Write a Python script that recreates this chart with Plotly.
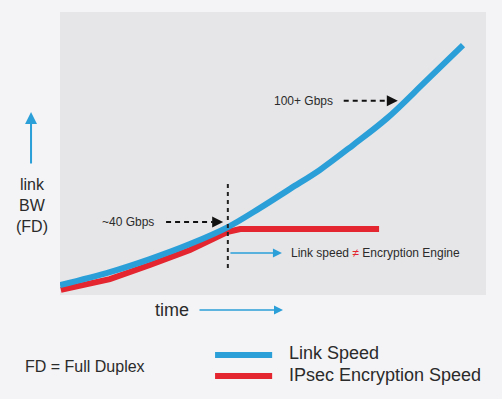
import plotly.graph_objects as go

# ---- data (abstract units: time 0-100, bandwidth 0-100) ----
link_time = [0, 11.7, 21.1, 30.5, 39.4, 46.9, 54.0, 61.0, 68.8, 76.8, 85.7, 94.6]
link_bw = [3.5, 8.1, 12.7, 18.0, 24.0, 30.7, 37.5, 44.2, 53.0, 62.5, 75.3, 88.3]
ipsec_time = [0.2, 11.7, 21.1, 30.5, 39.4, 42.3, 74.9]
ipsec_bw = [1.8, 5.6, 10.6, 15.9, 22.3, 23.3, 23.3]
series_names = ["Link Speed", "IPsec Encryption Speed"]

BLUE = "#2a9fd8"
RED = "#e3262f"
TXT = "#2b2b2b"
FONT = "Liberation Sans, Arial, sans-serif"

fig = go.Figure()
fig.add_trace(go.Scatter(x=ipsec_time, y=ipsec_bw, mode="lines", name=series_names[1],
                         line=dict(color=RED, width=6), hoverinfo="skip"))
fig.add_trace(go.Scatter(x=link_time, y=link_bw, mode="lines", name=series_names[0],
                         line=dict(color=BLUE, width=6, shape="spline", smoothing=1.0),
                         hoverinfo="skip"))

shapes = []
annotations = []

# vertical dashed marker
shapes.append(dict(type="line", xref="x", yref="y", x0=39.4, x1=39.4, y0=9.5, y1=39.9,
                   line=dict(color="#222", width=2, dash="4px,4px")))

# "100+ Gbps" dashed pointer
annotations.append(dict(x=64.6, y=68.6, xref="x", yref="y", text="100+ Gbps", showarrow=False,
                        xanchor="right", yanchor="middle", font=dict(size=12, color=TXT, family=FONT)))
shapes.append(dict(type="line", xref="x", yref="y", x0=66.6, x1=77.0, y0=68.6, y1=68.6,
                   line=dict(color="#111", width=2, dash="5px,4px")))
annotations.append(dict(x=79.3, y=68.6, xref="x", yref="y", ax=-12, ay=0, text="", showarrow=True,
                        arrowhead=2, arrowsize=1.1, arrowwidth=2, arrowcolor="#111"))

# "~40 Gbps" dashed pointer
annotations.append(dict(x=22.5, y=25.8, xref="x", yref="y", text="~40 Gbps", showarrow=False,
                        xanchor="right", yanchor="middle", font=dict(size=12, color=TXT, family=FONT)))
shapes.append(dict(type="line", xref="x", yref="y", x0=24.9, x1=35.8, y0=25.8, y1=25.8,
                   line=dict(color="#111", width=2, dash="5px,4px")))
annotations.append(dict(x=38.3, y=25.8, xref="x", yref="y", ax=-12, ay=0, text="", showarrow=True,
                        arrowhead=2, arrowsize=1.1, arrowwidth=2, arrowcolor="#111"))

# Link speed != Encryption engine
annotations.append(dict(x=52.1, y=14.8, xref="x", yref="y", ax=-53, ay=0, text="", showarrow=True,
                        arrowhead=2, arrowsize=1.2, arrowwidth=1.5, arrowcolor=BLUE))
annotations.append(dict(x=53.8, y=14.8, xref="x", yref="y",
                        text="Link speed <span style='color:%s'>≠</span> Encryption Engine" % RED,
                        showarrow=False, xanchor="left", yanchor="middle",
                        font=dict(size=12, color=TXT, family=FONT)))

# y-axis label and arrow
annotations.append(dict(x=-0.068, y=0.647, xref="paper", yref="paper", ax=0, ay=53, text="",
                        showarrow=True, arrowhead=2, arrowsize=1.2, arrowwidth=2, arrowcolor=BLUE))
annotations.append(dict(x=-0.0657, y=0.3145, xref="paper", yref="paper", text="link<br>BW<br>(FD)",
                        showarrow=False, xanchor="center", yanchor="middle", align="center",
                        font=dict(size=16, color=TXT, family=FONT)))

# x-axis label and arrow
annotations.append(dict(x=0.263, y=-0.053, xref="paper", yref="paper", text="time", showarrow=False,
                        xanchor="center", yanchor="middle", font=dict(size=18, color=TXT, family=FONT)))
annotations.append(dict(x=0.5235, y=-0.053, xref="paper", yref="paper", ax=-85, ay=0, text="",
                        showarrow=True, arrowhead=2, arrowsize=1.2, arrowwidth=1.5, arrowcolor=BLUE))

# manual legend
for name, color, yl, yt in [(series_names[0], BLUE, -0.212, -0.205),
                            (series_names[1], RED, -0.286, -0.283)]:
    shapes.append(dict(type="line", xref="paper", yref="paper", x0=0.364, x1=0.498, y0=yl, y1=yl,
                       line=dict(color=color, width=6)))
    annotations.append(dict(x=0.533, y=yt, xref="paper", yref="paper", text=name, showarrow=False,
                            xanchor="left", yanchor="middle", font=dict(size=18, color=TXT, family=FONT)))

annotations.append(dict(x=-0.0869, y=-0.254, xref="paper", yref="paper", text="FD = Full Duplex",
                        showarrow=False, xanchor="left", yanchor="middle",
                        font=dict(size=16, color=TXT, family=FONT)))

fig.update_layout(
    width=502, height=399,
    margin=dict(l=60, r=16, t=12, b=104),
    paper_bgcolor="#f4f4f6",
    plot_bgcolor="#e6e6e8",
    showlegend=False,
    shapes=shapes,
    annotations=annotations,
    font=dict(family=FONT, color=TXT),
)
fig.update_xaxes(range=[0, 100], showgrid=False, zeroline=False, showticklabels=False,
                 showline=False, fixedrange=True)
fig.update_yaxes(range=[0, 100], showgrid=False, zeroline=False, showticklabels=False,
                 showline=False, fixedrange=True)

fig.write_html("out.html", config={"displayModeBar": False, "staticPlot": True},
               post_script="document.body.style.margin='0';document.body.style.overflow='hidden';"
                           "document.body.style.background='#f4f4f6';")
